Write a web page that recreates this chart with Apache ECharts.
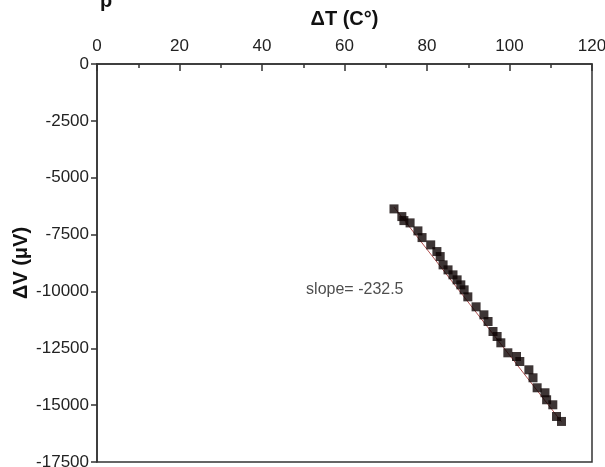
<!DOCTYPE html>
<html>
<head>
<meta charset="utf-8">
<script src="https://cdn.jsdelivr.net/npm/echarts@6/dist/echarts.min.js"></script>
<style>
  html, body { margin: 0; padding: 0; background: #fff; }
  #chart { width: 605px; height: 467px; }
</style>
</head>
<body>
<div id="chart"></div>
<script>
// Temperature difference (°C) and measured voltage difference (µV)
const deltaT = [72.0, 73.9, 74.4, 75.9, 77.8, 78.8, 80.9, 82.4, 83.2, 83.9, 85.1,
                86.3, 87.3, 88.2, 89.0, 89.9, 91.9, 93.8, 94.8, 96.0, 97.0, 97.9,
                99.6, 101.7, 102.5, 104.7, 105.7, 106.7, 108.6, 109.0, 110.5, 111.4, 112.6];
const deltaV = [-6371, -6709, -6885, -6986, -7338, -7632, -7953, -8247, -8467, -8832, -9052,
                -9271, -9491, -9711, -9930, -10238, -10677, -11029, -11323, -11763, -11982, -12259,
                -12699, -12861, -13081, -13446, -13797, -14237, -14456, -14764, -14984, -15498, -15717];

// Linear fit: slope and intercept, drawn across the measured range
const fitSlope = -232.5;
const fitIntercept = 10450;
const fitRange = [72.0, 112.6];

// Axis ticks
const xTicks = { min: 0, max: 120, step: 20 };
const yTicks = { min: -17500, max: 0, step: 2500 };

const points = deltaT.map((t, i) => [t, deltaV[i]]);
const fitLine = fitRange.map(t => [t, fitSlope * t + fitIntercept]);

const font = '"Liberation Sans", Arial, sans-serif';
const axisColor = '#333';

const chart = echarts.init(document.getElementById('chart'), null, { renderer: 'canvas' });
chart.setOption({
  backgroundColor: '#fff',
  animation: false,
  grid: {
    left: 97, right: 13, top: 64, bottom: 5,
    outerBoundsMode: 'none',
    containLabel: false,
    show: true, borderColor: axisColor, borderWidth: 1.5, backgroundColor: 'transparent'
  },
  xAxis: {
    type: 'value',
    position: 'top',
    min: xTicks.min, max: xTicks.max, interval: xTicks.step,
    name: 'ΔT (C°)',
    nameLocation: 'middle',
    nameGap: 35,
    nameMoveOverlap: false,
    nameTextStyle: { fontFamily: font, fontSize: 20, fontWeight: 'bold', color: '#111' },
    axisLine: { show: true, lineStyle: { color: axisColor, width: 1.5 } },
    axisTick: { show: true, inside: true, length: 7, lineStyle: { color: axisColor, width: 1.5 } },
    minorTick: { show: true, splitNumber: 2, length: 4, lineStyle: { color: axisColor, width: 1.5 } },
    axisLabel: { fontFamily: font, fontSize: 17, color: '#222', margin: 9, formatter: v => String(v) },
    splitLine: { show: false }
  },
  yAxis: {
    type: 'value',
    min: yTicks.min, max: yTicks.max, interval: yTicks.step,
    name: 'ΔV (μV)',
    nameLocation: 'middle',
    nameGap: 66,
    nameMoveOverlap: false,
    nameRotate: 90,
    nameTextStyle: { fontFamily: font, fontSize: 20, fontWeight: 'bold', color: '#111' },
    axisLine: { show: true, lineStyle: { color: axisColor, width: 1.5 } },
    axisTick: { show: true, inside: false, length: 6, lineStyle: { color: axisColor, width: 1.5 } },
    axisLabel: { fontFamily: font, fontSize: 17, color: '#222', margin: 8, formatter: v => String(v) },
    splitLine: { show: false }
  },
  graphic: [
    {
      type: 'text',
      left: 100, top: -9,
      style: { text: 'p', font: 'bold 20px ' + font, fill: '#111' }
    }
  ],
  series: [
    {
      type: 'line',
      data: fitLine,
      showSymbol: false,
      lineStyle: { color: '#b05050', width: 1 },
      z: 1,
      silent: true
    },
    {
      type: 'scatter',
      data: points,
      symbol: 'rect',
      symbolSize: 9,
      itemStyle: { color: '#0c0202' },
      z: 2
    },
    {
      type: 'scatter',
      data: [[62.5, -9900]],
      symbolSize: 0,
      label: {
        show: true,
        position: 'inside',
        formatter: () => 'slope= ' + fitSlope,
        fontFamily: font, fontSize: 16, color: '#222'
      },
      silent: true,
      z: 3
    }
  ]
});
</script>
</body>
</html>
